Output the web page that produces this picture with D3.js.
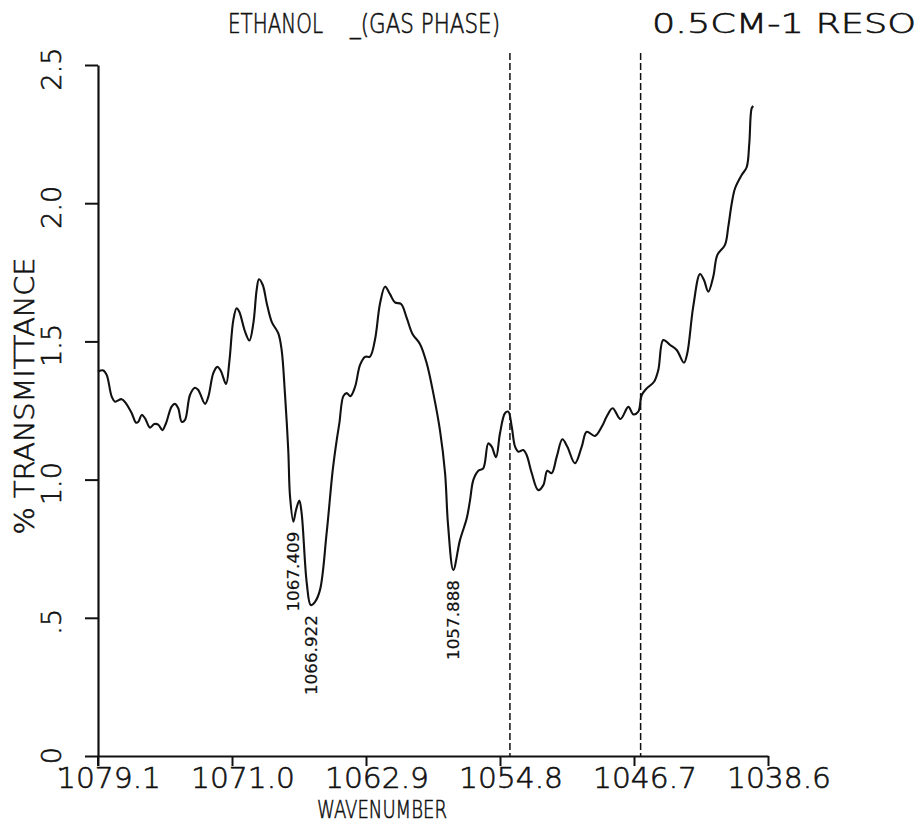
<!DOCTYPE html>
<html>
<head>
<meta charset="utf-8">
<script src="https://cdn.jsdelivr.net/npm/d3@7"></script>
<style>
  html, body { margin: 0; padding: 0; background: #fff; }
  svg { display: block; }
  text { font-family: "DejaVu Sans", sans-serif; font-weight: 200; fill: #111; stroke: #111; stroke-width: 0.6; }
</style>
</head>
<body>
<svg id="chart" width="916" height="824"></svg>
<script>
// ---- data ----
const wavenumber = [
  1079.10, 1078.78, 1078.57, 1078.27, 1078.07, 1077.67, 1077.41, 1077.06, 1076.80, 1076.66,
  1076.46, 1076.26, 1075.96, 1075.70, 1075.46, 1075.21, 1074.99, 1074.65, 1074.45, 1074.25,
  1074.04, 1073.84, 1073.54, 1073.24, 1073.04, 1072.63, 1072.43, 1072.13, 1071.89, 1071.68,
  1071.36, 1071.16, 1070.92, 1070.72, 1070.56, 1070.21, 1069.95, 1069.71, 1069.51, 1069.37,
  1069.14, 1068.90, 1068.60, 1068.20, 1068.00, 1067.80, 1067.60, 1067.49, 1067.29, 1067.13,
  1066.93, 1066.79, 1066.48, 1066.24, 1065.98, 1065.68, 1065.28, 1064.91, 1064.67, 1064.51,
  1064.27, 1064.07, 1063.84, 1063.56, 1063.26, 1062.96, 1062.66, 1062.36, 1062.05, 1061.75,
  1061.45, 1061.15, 1060.78, 1060.44, 1060.09, 1059.64, 1059.23, 1058.83, 1058.43, 1058.12,
  1057.94, 1057.62, 1057.22, 1056.81, 1056.61, 1056.41, 1056.11, 1055.81, 1055.51, 1055.30,
  1055.04, 1054.80, 1054.50, 1054.30, 1054.09, 1053.89, 1053.69, 1053.39, 1053.19, 1052.88,
  1052.49, 1052.18, 1051.94, 1051.68, 1051.37, 1051.03, 1050.73, 1050.27, 1049.86, 1049.56,
  1049.06, 1048.65, 1048.35, 1047.99, 1047.52, 1047.04, 1046.74, 1046.44, 1046.23, 1045.93,
  1045.49, 1045.23, 1044.93, 1044.52, 1044.12, 1043.68, 1043.48, 1043.12, 1042.71, 1042.47,
  1042.21, 1041.91, 1041.66, 1041.20, 1041.00, 1040.79, 1040.59, 1040.19, 1039.89, 1039.73,
  1039.59, 1039.49
];
const transmittance = [
  1.391, 1.395, 1.378, 1.300, 1.282, 1.291, 1.276, 1.240, 1.206, 1.209,
  1.234, 1.222, 1.188, 1.201, 1.199, 1.179, 1.204, 1.264, 1.274, 1.258,
  1.209, 1.216, 1.306, 1.332, 1.324, 1.274, 1.300, 1.385, 1.408, 1.394,
  1.346, 1.427, 1.577, 1.620, 1.607, 1.535, 1.503, 1.565, 1.686, 1.725,
  1.704, 1.638, 1.571, 1.529, 1.469, 1.312, 1.107, 0.937, 0.848, 0.890,
  0.924, 0.878, 0.625, 0.546, 0.558, 0.601, 0.806, 1.035, 1.143, 1.204,
  1.302, 1.313, 1.302, 1.336, 1.415, 1.444, 1.445, 1.505, 1.638, 1.698,
  1.671, 1.641, 1.635, 1.585, 1.527, 1.491, 1.421, 1.312, 1.179, 1.023,
  0.836, 0.673, 0.781, 0.860, 0.926, 0.999, 1.032, 1.041, 1.131, 1.119,
  1.081, 1.168, 1.240, 1.246, 1.191, 1.119, 1.101, 1.107, 1.089, 1.023,
  0.962, 0.980, 1.032, 1.023, 1.083, 1.146, 1.119, 1.059, 1.119, 1.173,
  1.158, 1.191, 1.228, 1.258, 1.219, 1.263, 1.236, 1.246, 1.306, 1.330,
  1.354, 1.397, 1.505, 1.487, 1.469, 1.423, 1.457, 1.626, 1.744, 1.722,
  1.680, 1.734, 1.813, 1.849, 1.915, 2.000, 2.054, 2.102, 2.130, 2.217,
  2.343, 2.352
];
const xTickValues = [1079.1, 1071.0, 1062.9, 1054.8, 1046.7, 1038.6];
const xTickLabels = ["1079.1", "1071.0", "1062.9", "1054.8", "1046.7", "1038.6"];
const yTickValues = [0, 0.5, 1.0, 1.5, 2.0, 2.5];
const yTickLabels = [".0", ".5", "1.0", "1.5", "2.0", "2.5"];
const peakWavenumbers = [1067.29, 1066.24, 1057.62];
const peakLabels = ["1067.409", "1066.922", "1057.888"];
const markerWavenumbers = [1054.2, 1046.3];
const titleParts = ["ETHANOL", "_(GAS PHASE)", "0.5CM-1 RESO"];
const xTitle = "WAVENUMBER";
const yTitle = "% TRANSMITTANCE";

// ---- layout ----
const svg = d3.select("#chart");
const x = d3.scaleLinear().domain([1079.1, 1038.6]).range([98, 768]);
const y = d3.scaleLinear().domain([0, 2.5]).range([756, 65]);

const ink = "#111";

// dashed marker lines
svg.append("g").selectAll("line").data(markerWavenumbers).join("line")
  .attr("x1", d => x(d)).attr("x2", d => x(d))
  .attr("y1", 53).attr("y2", y(0))
  .attr("stroke", ink).attr("stroke-width", 1.5)
  .attr("stroke-dasharray", "7,3");

// x axis
const xAxis = d3.axisBottom(x).tickValues(xTickValues).tickSize(10).tickSizeOuter(0).tickFormat("");
const gx = svg.append("g").attr("transform", `translate(0,${y(0)})`).call(xAxis);
gx.select(".domain").attr("stroke", ink).attr("stroke-width", 2);
gx.selectAll(".tick line").attr("stroke", ink).attr("stroke-width", 2);

// y axis
const yAxis = d3.axisLeft(y).tickValues(yTickValues).tickSize(13).tickSizeOuter(0).tickFormat("");
const gy = svg.append("g").attr("transform", `translate(${x(1079.1)},0)`).call(yAxis);
gy.select(".domain").attr("stroke", ink).attr("stroke-width", 2.2);
gy.selectAll(".tick line").attr("stroke", ink).attr("stroke-width", 2);
// the 1079.1 tick continues below the axis
svg.append("line").attr("x1", x(1079.1)).attr("x2", x(1079.1))
  .attr("y1", y(0)).attr("y2", y(0) + 10).attr("stroke", ink).attr("stroke-width", 2);

// x tick labels
svg.append("g").selectAll("text").data(xTickValues).join("text")
  .attr("x", d => x(d) + 11).attr("y", 788)
  .attr("text-anchor", "middle")
  .attr("font-size", 29)
  .attr("textLength", 104).attr("lengthAdjust", "spacingAndGlyphs")
  .text((d, i) => xTickLabels[i]);

// y tick labels (rotated)
svg.append("g").selectAll("text").data(yTickValues).join("text")
  .attr("transform", d => `translate(61,${y(d) + 4}) rotate(-90)`)
  .attr("text-anchor", "middle")
  .attr("font-size", 27)
  .text((d, i) => yTickLabels[i]);

// axis titles
svg.append("text").attr("x", 382).attr("y", 818).attr("text-anchor", "middle")
  .attr("font-size", 24).attr("textLength", 130).attr("lengthAdjust", "spacingAndGlyphs")
  .text(xTitle);
svg.append("text").attr("transform", "translate(34,396) rotate(-90)")
  .attr("text-anchor", "middle").attr("font-size", 27)
  .attr("textLength", 277).attr("lengthAdjust", "spacingAndGlyphs")
  .text(yTitle);

// title
const titleX = [228, 350, 652];
const titleW = [95, 150, 264];
svg.append("g").selectAll("text").data(titleParts).join("text")
  .attr("x", (d, i) => titleX[i]).attr("y", 33)
  .attr("font-size", 26)
  .attr("textLength", (d, i) => titleW[i]).attr("lengthAdjust", "spacingAndGlyphs")
  .text(d => d);

// spectrum line
const pts = wavenumber.map((w, i) => [w, transmittance[i]]);
const line = d3.line().x(d => x(d[0])).y(d => y(d[1])).curve(d3.curveCatmullRom.alpha(0.5));
svg.append("path").datum(pts)
  .attr("d", line).attr("fill", "none")
  .attr("stroke", ink).attr("stroke-width", 2.1).attr("stroke-linejoin", "round");

// peak labels (rotated, just below each minimum)
svg.append("g").selectAll("text").data(peakWavenumbers).join("text")
  .attr("transform", d => {
    const i = wavenumber.indexOf(d);
    return `translate(${x(d) + 6},${y(transmittance[i]) + 10}) rotate(-90)`;
  })
  .attr("text-anchor", "end")
  .attr("font-size", 15)
  .style("font-weight", 400).style("stroke-width", 0.2)
  .attr("textLength", 80).attr("lengthAdjust", "spacingAndGlyphs")
  .text((d, i) => peakLabels[i]);
</script>
</body>
</html>
